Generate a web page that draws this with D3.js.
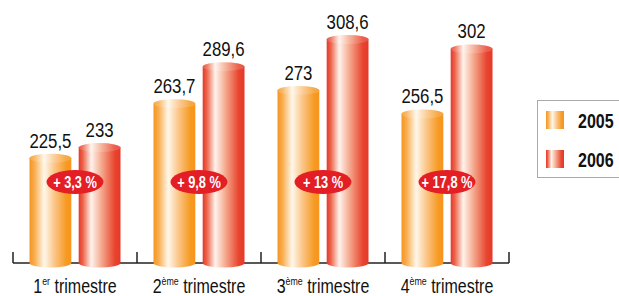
<!DOCTYPE html>
<html>
<head>
<meta charset="utf-8">
<script src="https://cdn.jsdelivr.net/npm/d3@7"></script>
<style>
	body { margin: 0; background: #fff; }
	svg { display: block; }
	text { font-family: "Liberation Sans", Arial, sans-serif; }
</style>
</head>
<body>
<script>
var quarters = ["1", "2", "3", "4"];
var quarterSup = ["er", "ème", "ème", "ème"];
var years = ["2005", "2006"];
var values2005 = [225.5, 263.7, 273, 256.5];
var values2006 = [233, 289.6, 308.6, 302];
var growth = ["+ 3,3 %", "+ 9,8 %", "+ 13 %", "+ 17,8 %"];

var W = 619, H = 296;
var baseY = 263;
var yMin = 147, yMax = 308.6;
var narrow = 0.8;

// cylinder shading stops: [offset, colour]
var shade = {
	"2005": [[0, "#f6951f"], [0.12, "#f8ad50"], [0.35, "#fff7ea"], [0.6, "#fbc588"], [0.88, "#f69a22"], [1, "#f6951f"]],
	"2006": [[0, "#e5382a"], [0.1, "#ec654b"], [0.3, "#fff3ec"], [0.55, "#f4a88c"], [0.86, "#e8452f"], [1, "#e5382a"]]
};

var svg = d3.select("body").append("svg")
	.attr("width", W)
	.attr("height", H);

// condensed text helper (no narrow font installed)
function ntext(parent, x, y) {
	return parent.append("text")
		.attr("transform", "translate(" + x + "," + y + ") scale(" + narrow + ",1)");
}

var defs = svg.append("defs");
years.forEach(function(yr) {
	let g = defs.append("linearGradient")
		.attr("id", "cyl" + yr)
		.attr("x1", "0").attr("x2", "1").attr("y1", "0").attr("y2", "0");
	shade[yr].forEach(function(s) {
		g.append("stop").attr("offset", s[0]).attr("stop-color", s[1]);
	});
});

var x0 = d3.scaleBand().domain(quarters).range([13, 509]);
var x1 = d3.scaleBand().domain(years).range([-45.5, 45.5]).paddingInner(0.15);
var y = d3.scaleLinear().domain([yMin, yMax]).range([266, 35]);

var data = [];
quarters.forEach(function(q, i) {
	data.push({ q: q, year: "2005", v: values2005[i] });
	data.push({ q: q, year: "2006", v: values2006[i] });
});

// axis
var axis = svg.append("g").attr("stroke", "#222").attr("stroke-width", 1.5).attr("fill", "none");
axis.append("path")
	.attr("d", "M" + x0.range()[0] + "," + baseY + "H" + x0.range()[1]);
var tickPos = quarters.map(function(q) { return x0(q); }).concat([x0.range()[1]]);
tickPos.forEach(function(t) {
	axis.append("path").attr("d", "M" + t + "," + baseY + "V" + (baseY - 11));
});

// bars as cylinders
var ry = 4.5;
var bars = svg.append("g").selectAll("g.bar").data(data).join("g").attr("class", "bar");
bars.each(function(d) {
	let g = d3.select(this);
	let bx = x0(d.q) + x0.bandwidth() / 2 + x1(d.year);
	let bw = x1.bandwidth();
	let top = y(d.v) + ry;
	let fill = "url(#cyl" + d.year + ")";
	g.append("path")
		.attr("d", "M" + bx + "," + top + "V" + baseY +
			"A" + (bw / 2) + "," + ry + " 0 0 0 " + (bx + bw) + "," + baseY +
			"V" + top + "Z")
		.attr("fill", fill);
	g.append("ellipse")
		.attr("cx", bx + bw / 2)
		.attr("cy", top)
		.attr("rx", bw / 2)
		.attr("ry", ry)
		.attr("fill", fill);
	g.append("ellipse")
		.attr("cx", bx + bw / 2)
		.attr("cy", top)
		.attr("rx", bw / 2)
		.attr("ry", ry)
		.attr("fill", "#fff")
		.attr("opacity", 0.15);
	ntext(g, bx + bw / 2, y(d.v) - 6)
		.attr("text-anchor", "middle")
		.attr("font-size", 21)
		.attr("fill", "#111")
		.text(String(d.v).replace(".", ","));
});

// growth badges + category labels
quarters.forEach(function(q, i) {
	let cx = x0(q) + x0.bandwidth() / 2;
	svg.append("ellipse")
		.attr("cx", cx)
		.attr("cy", 182)
		.attr("rx", 28.5)
		.attr("ry", 12)
		.attr("fill", "#e31e24");
	ntext(svg, cx, 187.5)
		.attr("text-anchor", "middle")
		.attr("font-size", 16)
		.attr("font-weight", "bold")
		.attr("fill", "#fff")
		.text(growth[i]);

	let t = ntext(svg, cx, 293)
		.attr("text-anchor", "middle")
		.attr("font-size", 20)
		.attr("fill", "#111");
	t.append("tspan").text(q);
	t.append("tspan").attr("font-size", 11).attr("dy", -8).text(quarterSup[i]);
	t.append("tspan").attr("dy", 8).text(" trimestre");
});

// legend
var leg = svg.append("g");
leg.append("rect")
	.attr("x", 537.5).attr("y", 100.5)
	.attr("width", 100).attr("height", 77)
	.attr("fill", "#fff")
	.attr("stroke", "#aaa");
years.forEach(function(yr, i) {
	let ly = 111 + i * 39;
	leg.append("rect")
		.attr("x", 546).attr("y", ly)
		.attr("width", 18).attr("height", 18)
		.attr("fill", "url(#cyl" + yr + ")");
	ntext(leg, 578, ly + 17)
		.attr("font-size", 20)
		.attr("font-weight", "bold")
		.attr("fill", "#111")
		.text(yr);
});
</script>
</body>
</html>
